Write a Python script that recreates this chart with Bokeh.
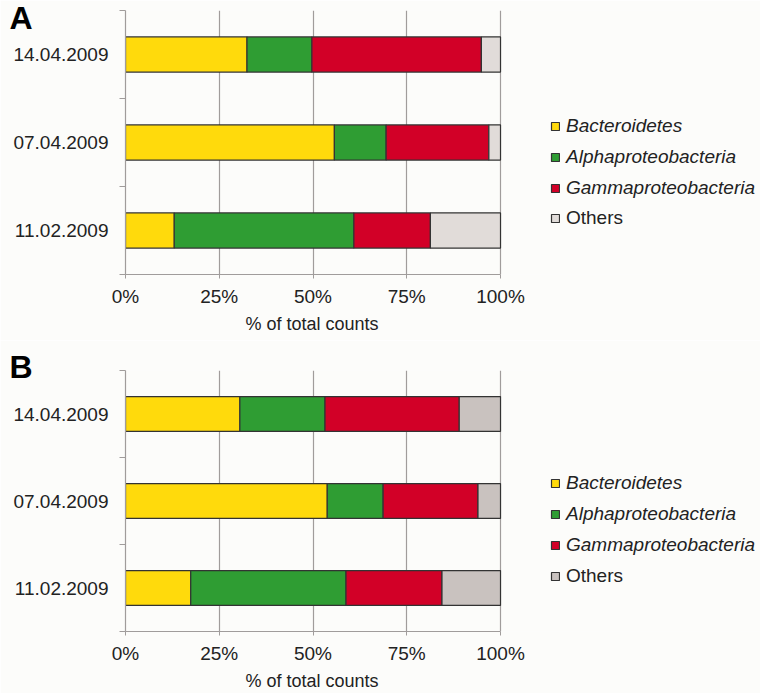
from bokeh.plotting import figure
from bokeh.models import (ColumnDataSource, FixedTicker, PrintfTickFormatter, Legend,
                          LegendItem, Label, GridBox, Title)
from bokeh.embed import file_html
from bokeh.resources import INLINE

dates = ["11.02.2009", "07.04.2009", "14.04.2009"]
groups = ["Bacteroidetes", "Alphaproteobacteria", "Gammaproteobacteria", "Others"]
x_title = "% of total counts"

# panel A (% of total counts)
a_bacteroidetes = [13.0, 55.7, 32.4]
a_alpha = [47.9, 13.8, 17.3]
a_gamma = [20.4, 27.4, 45.2]
a_others = [18.7, 3.1, 5.1]

# panel B (% of total counts)
b_bacteroidetes = [17.4, 53.8, 30.5]
b_alpha = [41.4, 14.9, 22.7]
b_gamma = [25.6, 25.3, 35.8]
b_others = [15.6, 6.0, 11.0]

x_ticks = [0, 25, 50, 75, 100]

COL_Y = "#FFDA0C"
COL_G = "#2F9D33"
COL_R = "#D20027"
GRID = "#A09C9B"
BG = "#FCFCFA"
FONT = "Liberation Sans"
TXT = "#222222"

W = 760
LEFT = 125          # frame left edge (px)
AXIS_END = 500      # pixel where 100 % sits
TITLE_OFFSET = 120  # left edge of the axis title, from the frame's left edge


def main_panel(series, others_color, height, top, bottom, vy_italic, vy_normal):
    colors = [COL_Y, COL_G, COL_R, others_color]
    ypos = [i + 0.5 for i in range(len(dates))]
    data = {"y": ypos}
    keys = ["s0", "s1", "s2", "s3"]
    for k, s in zip(keys, series):
        data[k] = s
    src = ColumnDataSource(data)

    x_end = 100 * (W - LEFT) / (AXIS_END - LEFT)
    p = figure(width=W, height=height, output_backend="svg", toolbar_location=None,
               x_range=(0, x_end), y_range=(0, len(dates)),
               min_border_left=LEFT, min_border_right=0,
               min_border_top=top, min_border_bottom=bottom,
               background_fill_color=BG, border_fill_color=BG)
    p.outline_line_color = None
    rs = p.hbar_stack(keys, y="y", height=0.4, source=src, color=colors,
                      line_color="#333333", line_width=1.2)

    p.xgrid.ticker = FixedTicker(ticks=x_ticks)
    p.xgrid.grid_line_color = GRID
    p.xgrid.grid_line_width = 1.2
    p.ygrid.grid_line_color = None

    xa = p.xaxis[0]
    xa.ticker = FixedTicker(ticks=x_ticks)
    xa.bounds = (x_ticks[0], x_ticks[-1])
    xa.formatter = PrintfTickFormatter(format="%d%%")
    xa.axis_line_color = GRID
    xa.axis_line_width = 1.2
    xa.major_tick_line_color = GRID
    xa.major_tick_out = 4
    xa.major_tick_in = 0
    xa.minor_tick_line_color = None
    xa.major_label_text_font = FONT
    xa.major_label_text_font_size = "19px"
    xa.major_label_text_color = TXT
    xa.major_label_standoff = 7

    # axis title, centred under the 0-100 % part of the axis
    p.add_layout(Title(text=x_title, align="left", offset=TITLE_OFFSET, standoff=5,
                       text_font=FONT, text_font_size="18px", text_font_style="normal",
                       text_color=TXT), "below")

    ya = p.yaxis[0]
    ya.ticker = FixedTicker(ticks=ypos, minor_ticks=list(range(len(dates) + 1)))
    ya.major_label_overrides = {y: d for y, d in zip(ypos, dates)}
    ya.axis_line_color = GRID
    ya.axis_line_width = 1.2
    ya.major_tick_line_color = None
    ya.minor_tick_line_color = GRID
    ya.minor_tick_line_width = 1.2
    ya.minor_tick_out = 6
    ya.minor_tick_in = 0
    ya.major_label_text_font = FONT
    ya.major_label_text_font_size = "19px"
    ya.major_label_text_color = TXT
    ya.major_label_standoff = 11

    common = dict(orientation="vertical", glyph_width=10, glyph_height=10,
                  label_height=28, spacing=3, padding=0, margin=0,
                  border_line_color=None, background_fill_alpha=0,
                  label_text_font=FONT, label_text_font_size="19px",
                  label_text_color=TXT, label_standoff=6)
    leg1 = Legend(items=[LegendItem(label=g, renderers=[r]) for g, r in zip(groups[:3], rs[:3])],
                  location=(AXIS_END + 50 - LEFT, vy_italic), label_text_font_style="italic",
                  **common)
    leg2 = Legend(items=[LegendItem(label=groups[3], renderers=[rs[3]])],
                  location=(AXIS_END + 50 - LEFT, vy_normal), label_text_font_style="normal",
                  **common)
    p.add_layout(leg1)
    p.add_layout(leg2)
    return p


def letter_panel(letter, base):
    p = figure(width=40, height=45, output_backend="svg", toolbar_location=None,
               x_axis_location=None, y_axis_location=None,
               x_range=(0, 1), y_range=(0, 1), frame_align=False,
               min_border_left=0, min_border_right=0, min_border_top=0, min_border_bottom=0,
               background_fill_alpha=0, border_fill_alpha=0)
    p.outline_line_color = None
    p.grid.visible = False
    p.add_layout(Label(x=9, y=base, x_units="screen", y_units="screen", text=letter,
                       text_font=FONT, text_font_size="32px", text_font_style="bold",
                       text_baseline="alphabetic", text_color="#000000"))
    return p


ma = main_panel([a_bacteroidetes, a_alpha, a_gamma, a_others], "#E1DCD9", 340, 10, 66, 72, 42)
mb = main_panel([b_bacteroidetes, b_alpha, b_gamma, b_others], "#C9C2BF", 353, 30, 60, 72, 41)
ta = letter_panel("A", 27.5)
tb = letter_panel("B", 18.5)

grid = GridBox(children=[(ma, 0, 0), (ta, 0, 0), (mb, 1, 0), (tb, 1, 0)], spacing=0)
open("out.html", "w").write(file_html(grid, INLINE))
